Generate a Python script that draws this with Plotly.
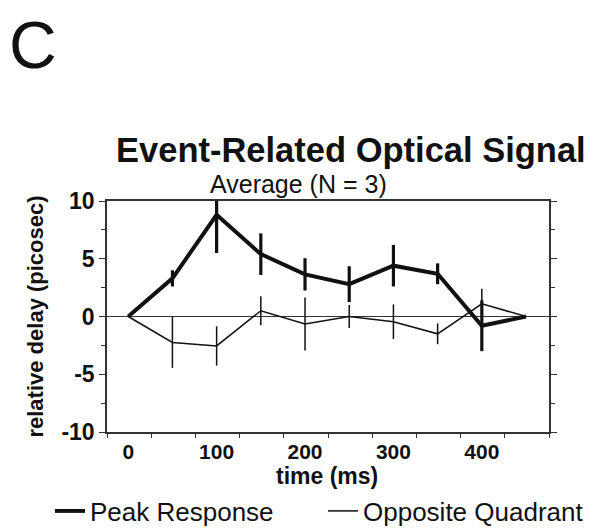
import plotly.graph_objects as go

# Sample times (ms) and averaged delays (picoseconds) with error half-widths
time_ms = [0, 50, 100, 150, 200, 250, 300, 350, 400, 450]

peak_response = [0.0, 3.3, 8.8, 5.4, 3.65, 2.8, 4.4, 3.7, -0.8, 0.0]
peak_err = [0.0, 0.7, 3.3, 1.8, 1.4, 1.55, 1.8, 0.9, 2.2, 0.0]

opposite_quadrant = [0.0, -2.25, -2.55, 0.5, -0.65, 0.0, -0.45, -1.5, 1.1, 0.0]
opposite_err = [0.0, 2.2, 1.7, 1.25, 2.3, 1.0, 1.5, 0.9, 1.3, 0.0]

x_ticks = [0, 100, 200, 300, 400]
y_ticks = [-10, -5, 0, 5, 10]
y_tick_text = ["-10", "-5", "0", "5", "10"]

FONT = "Liberation Sans, Arial, Helvetica, sans-serif"
INK = "#111111"
AXIS = "#333333"

fig = go.Figure()

# Error bars (no caps), drawn as separate marker-less traces
fig.add_trace(go.Scatter(
    x=time_ms, y=opposite_quadrant, mode="markers",
    marker=dict(size=0.1, color=INK, opacity=0),
    error_y=dict(type="data", array=opposite_err, visible=True,
                 color=INK, thickness=1.5, width=0),
    showlegend=False, hoverinfo="skip"))
fig.add_trace(go.Scatter(
    x=time_ms, y=peak_response, mode="markers",
    marker=dict(size=0.1, color=INK, opacity=0),
    error_y=dict(type="data", array=peak_err, visible=True,
                 color=INK, thickness=3.2, width=0),
    showlegend=False, hoverinfo="skip"))

# Mean curves
fig.add_trace(go.Scatter(
    x=time_ms, y=opposite_quadrant, mode="lines",
    line=dict(color=INK, width=1.5),
    name="Opposite Quadrant", legendrank=2))
fig.add_trace(go.Scatter(
    x=time_ms, y=peak_response, mode="lines",
    line=dict(color=INK, width=4),
    name="Peak Response", legendrank=1))

L, R, T, B = 107, 53, 201, 96
W, H = 602, 528
pw, ph = W - L - R, H - T - B


def px(xp):
    return (xp - L) / pw


def py(yp):
    return (H - B - yp) / ph


fig.update_layout(
    width=W, height=H,
    margin=dict(l=L, r=R, t=T, b=B, autoexpand=False),
    paper_bgcolor="white", plot_bgcolor="white",
    font=dict(family=FONT, color=INK),
    showlegend=True,
    legend=dict(orientation="h", x=px(50), y=py(511), xanchor="left",
                yanchor="middle", font=dict(size=26, family=FONT, color=INK),
                itemwidth=30, entrywidth=228, entrywidthmode="pixels",
                bgcolor="rgba(0,0,0,0)"),
    xaxis=dict(
        range=[-24, 476], tickvals=x_ticks, ticks="",
        ticklabelstandoff=0,
        tickfont=dict(size=21, family=FONT, weight="bold"),
        showline=True, linecolor=AXIS, linewidth=1.5, mirror=True,
        showgrid=False, zeroline=False,
        minor=dict(tick0=-24, dtick=50, ticks="outside", ticklen=4,
                   tickcolor=AXIS, tickwidth=1.2, showgrid=False),
    ),
    yaxis=dict(
        range=[-10, 10], tickvals=y_ticks, ticktext=y_tick_text,
        ticks="outside", ticklen=6,
        tickwidth=1.2, tickcolor=AXIS,
        tickfont=dict(size=23, family=FONT, weight="bold"),
        showline=True, linecolor=AXIS, linewidth=1.5, mirror="ticks",
        showgrid=False,
        zeroline=True, zerolinecolor=AXIS, zerolinewidth=1,
        minor=dict(dtick=2.5, ticks="outside", ticklen=4,
                   tickcolor=AXIS, tickwidth=1.2, showgrid=False),
        title=dict(text="relative delay (picosec)", standoff=12,
                   font=dict(size=22, family=FONT, weight="bold")),
    ),
    annotations=[
        dict(text="C", x=px(7), y=py(45), xref="paper", yref="paper",
             xanchor="left", yanchor="middle", showarrow=False,
             font=dict(size=66, family=FONT, color=INK)),
        dict(text="<b>Event-Related Optical Signal</b>", x=px(351), y=py(150),
             xref="paper", yref="paper", xanchor="center", yanchor="middle",
             showarrow=False, font=dict(size=34.5, family=FONT, color=INK)),
        dict(text="Average (N = 3)", x=px(298), y=py(184),
             xref="paper", yref="paper", xanchor="center", yanchor="middle",
             showarrow=False, font=dict(size=25, family=FONT, color=INK)),
        dict(text="<b>time (ms)</b>", x=px(327), y=py(476),
             xref="paper", yref="paper", xanchor="center", yanchor="middle",
             showarrow=False, font=dict(size=23, family=FONT, color=INK)),
    ],
)

fig.write_html("out.html")
